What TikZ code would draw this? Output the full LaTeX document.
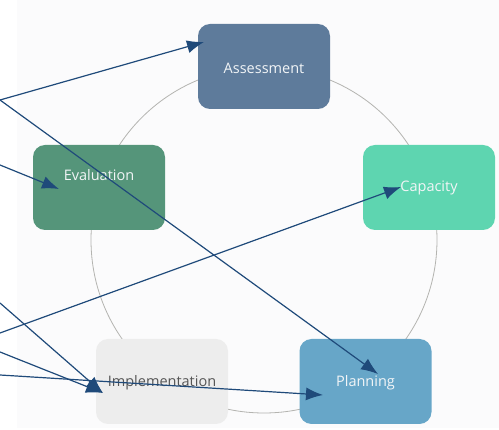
\documentclass[tikz,border=0pt]{standalone}
\usepackage{fontspec}
\setmainfont{Open Sans}
\usetikzlibrary{arrows.meta}
\definecolor{bgc}{HTML}{FBFBFC}
\definecolor{ringc}{HTML}{B4B4B0}
\definecolor{assessc}{HTML}{5E7B9B}
\definecolor{evalc}{HTML}{55957A}
\definecolor{capc}{HTML}{5ED5B0}
\definecolor{implc}{HTML}{EDEDED}
\definecolor{planc}{HTML}{67A6C8}
\definecolor{arrc}{HTML}{1F4A7A}
\definecolor{lighttext}{HTML}{F2F5F7}
\definecolor{darktext}{HTML}{555555}
\begin{document}
\begin{tikzpicture}[x=1pt,y=-1pt,
  stagebox/.style={draw=none, rounded corners=12pt, minimum width=132pt, minimum height=85pt,
    inner sep=0pt, font=\fontsize{14.5}{16}\selectfont, text=lighttext},
  stagetext/.style={font=\fontsize{14.5}{16}\selectfont, text=lighttext, inner sep=0pt},
  ring/.style={draw=ringc, line width=0.8pt},
  link/.style={draw=arrc, line width=1.2pt, -{Latex[length=17pt,width=13pt]}}]
\useasboundingbox (0,0) rectangle (499,430);
\clip (0,0) rectangle (499,430);
\fill[bgc] (17,0) rectangle (499,428);
\draw[ring] (264,240) circle[radius=173];
\node[stagebox, fill=assessc, label={[stagetext, yshift=-1.5pt]center:Assessment}] (assess) at (264,66.5) {};
\node[stagebox, fill=capc, label={[stagetext, yshift=-0.5pt]center:Capacity}] (cap) at (429,187.5) {};
\node[stagebox, fill=planc, label={[stagetext, yshift=-1pt]center:Planning}] (plan) at (365.5,381.5) {};
\node[stagebox, fill=implc, label={[stagetext, text=darktext, yshift=-1pt]center:Implementation}] (impl) at (162,381.5) {};
\node[stagebox, fill=evalc, label={[stagetext, yshift=12pt]center:Evaluation}] (eval) at (99,187.5) {};
\coordinate (s1) at (0,100);
\coordinate (s2) at (0,165);
\coordinate (s3) at (0,303);
\coordinate (s4) at (0,333);
\coordinate (s5) at (0,352);
\coordinate (s6) at (0,375);
\draw[link] (s1) -- ([shift={(-60,-24.5)}]assess.center);
\draw[link] (s1) -- ([shift={(12.5,-7.5)}]plan.center);
\draw[link] (s2) -- ([shift={(-40,1.5)}]eval.center);
\draw[link] (s3) -- ([shift={(-59,11.5)}]impl.center);
\draw[link] (s4) -- ([shift={(-28,-0.5)}]cap.center);
\draw[link] (s5) -- ([shift={(-59,11.5)}]impl.center);
\draw[link] (s6) -- ([shift={(-42.5,13.5)}]plan.center);
\end{tikzpicture}
\end{document}
